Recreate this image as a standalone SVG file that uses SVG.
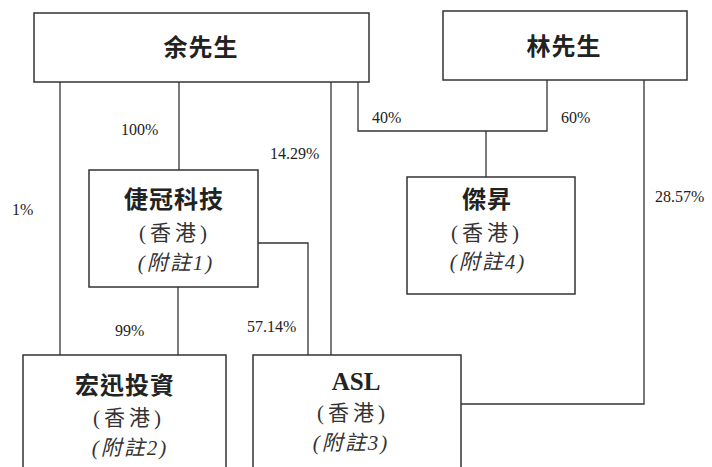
<svg xmlns="http://www.w3.org/2000/svg" width="712" height="467" viewBox="0 0 712 467">
<style>
.box{fill:#fff;stroke:#333;stroke-width:1.5}
.ln{fill:none;stroke:#333;stroke-width:1.3}
.t{font-family:"Noto Sans CJK TC","Noto Sans CJK SC",sans-serif;font-weight:bold;font-size:24px;letter-spacing:1px;fill:#222;text-anchor:middle}
.s{font-family:"Liberation Serif","Noto Sans CJK TC",serif;font-size:21px;letter-spacing:4px;fill:#333;text-anchor:middle}
.n{font-family:"Liberation Serif","Noto Sans CJK TC",serif;font-style:italic;font-size:21px;letter-spacing:2px;fill:#333;text-anchor:middle}
.p{font-family:"Liberation Serif",serif;font-size:16px;fill:#222}
.a{font-family:"Liberation Serif",serif;font-weight:bold;font-size:25px;fill:#222;text-anchor:middle}
</style>
<rect width="712" height="467" fill="#fff"/>
<g id="connectors">
<path class="ln" d="M60 82V355"/>
<path class="ln" d="M179 82V170"/>
<path class="ln" d="M331 82V355"/>
<path class="ln" d="M358 82V131H547V80"/>
<path class="ln" d="M486 131V177"/>
<path class="ln" d="M644 80V404H461"/>
<path class="ln" d="M258 243H308V355"/>
<path class="ln" d="M178 287V355"/>
<text class="p" x="121" y="135">100%</text>
<text class="p" x="270" y="159">14.29%</text>
<text class="p" x="12" y="215">1%</text>
<text class="p" x="372" y="123">40%</text>
<text class="p" x="561" y="123">60%</text>
<text class="p" x="655" y="202">28.57%</text>
<text class="p" x="115" y="336">99%</text>
<text class="p" x="247" y="332">57.14%</text>
</g>
<g id="node-yu">
<rect class="box" x="34" y="13" width="335" height="69"/>
<text class="t" x="201" y="56">余先生</text>
</g>
<g id="node-lam">
<rect class="box" x="443" y="11" width="244" height="69"/>
<text class="t" x="564" y="55">林先生</text>
</g>
<g id="node-jiguan">
<rect class="box" x="89" y="170" width="169" height="117"/>
<text class="t" x="174" y="208">倢冠科技</text>
<text class="s" x="175" y="240">(香港)</text>
<text class="n" x="176" y="270">(附註1)</text>
</g>
<g id="node-jiesheng">
<rect class="box" x="407" y="177" width="168" height="117"/>
<text class="t" x="487" y="208">傑昇</text>
<text class="s" x="487" y="240">(香港)</text>
<text class="n" x="488" y="269">(附註4)</text>
</g>
<g id="node-hongxun">
<rect class="box" x="23" y="355" width="203" height="120"/>
<text class="t" x="125" y="394">宏迅投資</text>
<text class="s" x="129" y="425">(香港)</text>
<text class="n" x="130" y="455">(附註2)</text>
</g>
<g id="node-asl">
<rect class="box" x="253" y="355" width="208" height="120"/>
<text class="a" x="356" y="390">ASL</text>
<text class="s" x="353" y="420">(香港)</text>
<text class="n" x="351" y="450">(附註3)</text>
</g>
</svg>
